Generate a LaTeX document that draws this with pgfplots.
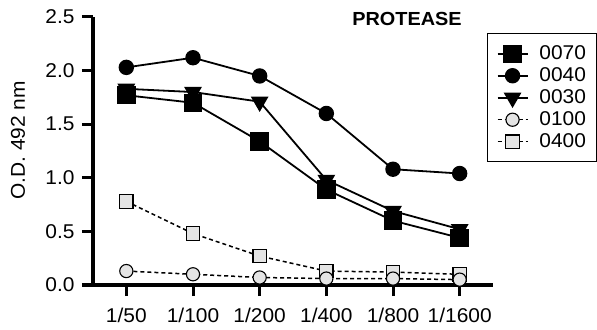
\documentclass[border=0pt]{standalone}
\usepackage{fontspec}
\setmainfont{Liberation Sans}[FakeStretch=1.05]
\usepackage{pgfplots}
\pgfplotsset{compat=1.18}
\definecolor{lightg}{HTML}{E4E4E4}
\begin{document}
\begin{tikzpicture}[font=\fontsize{20}{24}\selectfont]
\useasboundingbox (0,0) rectangle (597bp,330bp);
\begin{axis}[
  at={(93bp,45bp)}, anchor=south west,
  scale only axis, width=400bp, height=268bp,
  xmin=-0.5, xmax=5.5, ymin=0, ymax=2.5,
  axis x line*=bottom, axis y line*=left,
  axis line style={line width=3bp,-},
  tick align=outside, major tick length=11bp,
  every tick/.style={black, line width=3bp},
  xtick={0,1,2,3,4,5},
  xticklabels={1/50,1/100,1/200,1/400,1/800,1/1600},
  ytick={0,0.5,1,1.5,2,2.5},
  every tick label/.append style={font=\fontsize{20}{24}\selectfont},
  yticklabel style={/pgf/number format/fixed, /pgf/number format/fixed zerofill, /pgf/number format/precision=1, xshift=-4bp},
  /pgf/number format/assume math mode=true,
  xticklabel style={yshift=-9bp},
  ylabel={O.D. 492 nm},
  ylabel style={font=\fontsize{20}{24}\selectfont, at={(axis description cs:-0.1875,0.54)}, anchor=center},
  clip=false,
  reverse legend,
  legend cell align=left,
  legend image code/.code={\draw[mark repeat=2,mark phase=2,#1] plot coordinates {(0bp,0bp) (15bp,0bp) (30bp,0bp)};},
  legend style={at={(0.985,0.94)}, anchor=north west, draw=black, line width=1.3bp,
    inner xsep=9bp, inner ysep=9bp, column sep=9bp,
    nodes={text height=15bp, text depth=3bp, inner sep=2bp},
    font=\fontsize{20}{24}\selectfont},
]
\addplot[black, line width=1.5bp, dash pattern=on 4bp off 3bp, mark=square*, mark size=6.7bp,
  mark options={solid, fill=lightg, draw=black, line width=1.1bp}]
  coordinates {(0,0.78) (1,0.48) (2,0.27) (3,0.13) (4,0.12) (5,0.10)};
\addlegendentry{0400}
\addplot[black, line width=1.5bp, dash pattern=on 4bp off 3bp, mark=*, mark size=6.6bp,
  mark options={solid, fill=lightg, draw=black, line width=1.1bp}]
  coordinates {(0,0.13) (1,0.10) (2,0.07) (3,0.06) (4,0.06) (5,0.05)};
\addlegendentry{0100}
\addplot[black, line width=1.8bp, mark=triangle*, mark size=8.5bp,
  mark options={solid, fill=black, rotate=180}]
  coordinates {(0,1.83) (1,1.80) (2,1.71) (3,0.98) (4,0.69) (5,0.52)};
\addlegendentry{0030}
\addplot[black, line width=1.8bp, mark=*, mark size=6.8bp,
  mark options={solid, fill=black}]
  coordinates {(0,2.03) (1,2.12) (2,1.95) (3,1.60) (4,1.08) (5,1.04)};
\addlegendentry{0040}
\addplot[black, line width=1.8bp, mark=square*, mark size=8.3bp,
  mark options={solid, fill=black}]
  coordinates {(0,1.77) (1,1.70) (2,1.34) (3,0.89) (4,0.60) (5,0.44)};
\addlegendentry{0070}
\node[font=\bfseries\fontsize{19}{22}\selectfont, anchor=center] at (rel axis cs:0.785,0.993) {PROTEASE};
\end{axis}
\end{tikzpicture}
\end{document}
